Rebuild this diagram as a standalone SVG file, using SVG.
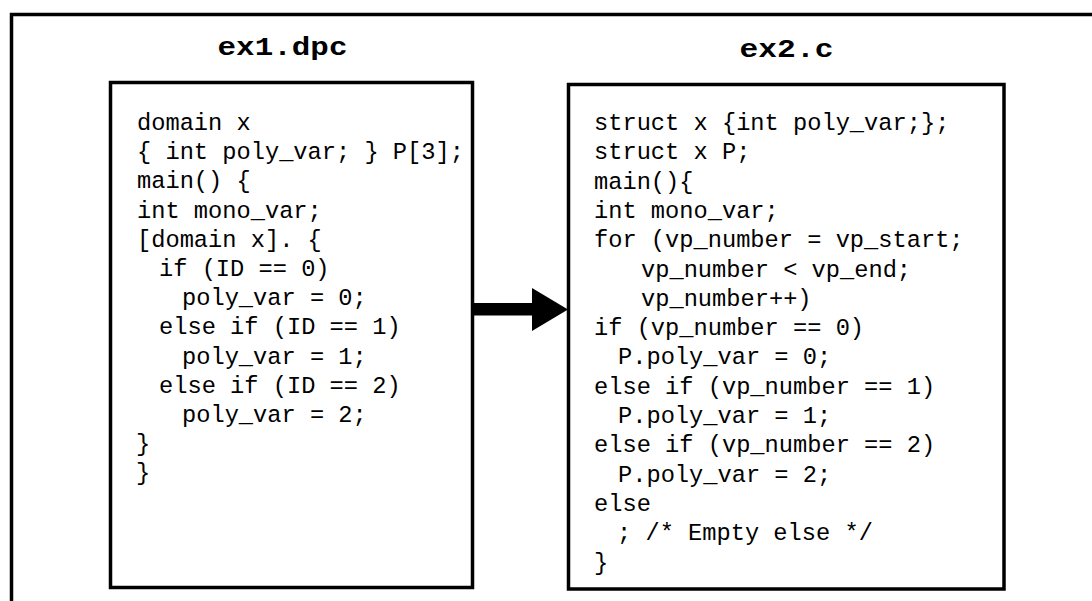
<svg xmlns="http://www.w3.org/2000/svg" width="1092" height="601" viewBox="0 0 1092 601">
<style>
.frame{fill:none;stroke:#000;stroke-width:3.5}
.box{fill:#fff;stroke:#000;stroke-width:3.5}
.title{font-family:"Liberation Mono","Courier New",monospace;font-weight:bold;font-size:25px;fill:#000}
.code{font-family:"Liberation Mono","Courier New",monospace;font-size:23.7px;fill:#000}
</style>
<rect width="1092" height="601" fill="#fff"/>
<path class="frame" d="M11.5,601 V14.5 H1092"/>
<g id="ex1">
<text class="title" x="282.5" y="55" text-anchor="middle" textLength="130" lengthAdjust="spacingAndGlyphs">ex1.dpc</text>
<rect class="box" x="110.5" y="82.5" width="362" height="505"/>
<text class="code" x="137" y="130">domain x</text>
<text class="code" x="137" y="159.2">{ int poly_var; } P[3];</text>
<text class="code" x="137" y="188.4">main() {</text>
<text class="code" x="137" y="217.6">int mono_var;</text>
<text class="code" x="137" y="246.8">[domain x]. {</text>
<text class="code" x="159" y="276">if (ID == 0)</text>
<text class="code" x="182" y="305.2">poly_var = 0;</text>
<text class="code" x="159" y="334.4">else if (ID == 1)</text>
<text class="code" x="182" y="363.6">poly_var = 1;</text>
<text class="code" x="159" y="392.8">else if (ID == 2)</text>
<text class="code" x="182" y="422">poly_var = 2;</text>
<text class="code" x="136" y="451.2">}</text>
<text class="code" x="136" y="480.4">}</text>
</g>
<g id="ex2">
<text class="title" x="786.5" y="57" text-anchor="middle" textLength="94" lengthAdjust="spacingAndGlyphs">ex2.c</text>
<rect class="box" x="568.5" y="84.5" width="435.5" height="504.5"/>
<text class="code" x="594" y="130">struct x {int poly_var;};</text>
<text class="code" x="594" y="159.3">struct x P;</text>
<text class="code" x="594" y="188.6">main(){</text>
<text class="code" x="594" y="217.9">int mono_var;</text>
<text class="code" x="594" y="247.2">for (vp_number = vp_start;</text>
<text class="code" x="641" y="276.5">vp_number &lt; vp_end;</text>
<text class="code" x="641" y="305.8">vp_number++)</text>
<text class="code" x="594" y="335.1">if (vp_number == 0)</text>
<text class="code" x="618" y="364.4">P.poly_var = 0;</text>
<text class="code" x="594" y="393.7">else if (vp_number == 1)</text>
<text class="code" x="618" y="423">P.poly_var = 1;</text>
<text class="code" x="594" y="452.3">else if (vp_number == 2)</text>
<text class="code" x="618" y="481.6">P.poly_var = 2;</text>
<text class="code" x="594" y="510.9">else</text>
<text class="code" x="617" y="540.2">; /* Empty else */</text>
<text class="code" x="594" y="569.5">}</text>
</g>
<g id="connectors">
<path d="M472.5,303 H532 V288 L568,309.5 L532,331 V315.5 H472.5 Z" fill="#000"/>
</g>
</svg>
